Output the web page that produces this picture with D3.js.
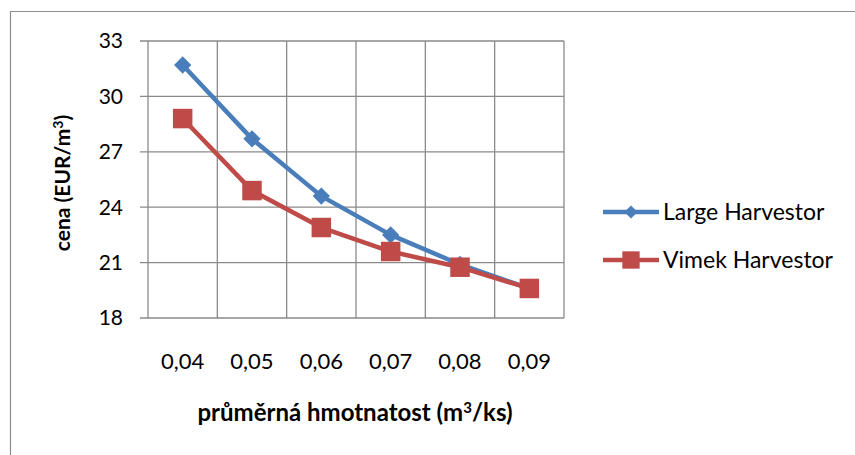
<!DOCTYPE html>
<html>
<head>
<meta charset="utf-8">
<script src="https://cdn.jsdelivr.net/npm/d3@7"></script>
<style>
  body { margin: 0; background: #fff; }
  svg { display: block; font-family: Lato, "Open Sans", sans-serif; }
</style>
</head>
<body>
<svg id="chart" width="855" height="455"></svg>
<script>
// data
const categories = ["0,04", "0,05", "0,06", "0,07", "0,08", "0,09"];
const largeHarvestor = [31.7, 27.7, 24.6, 22.5, 20.9, 19.6];
const vimekHarvestor = [28.8, 24.9, 22.9, 21.6, 20.75, 19.6];
const yTicks = [18, 21, 24, 27, 30, 33];

const series = [
  { name: "Large Harvestor", values: largeHarvestor, color: "#4a7ebb", marker: "diamond" },
  { name: "Vimek Harvestor", values: vimekHarvestor, color: "#be4b48", marker: "square" }
];

const svg = d3.select("#chart");

// outer chart border (cut off at right and bottom)
svg.append("path")
  .attr("d", "M10.5,455 L10.5,11.5 L855,11.5")
  .attr("fill", "none")
  .attr("stroke", "#8c8c8c")
  .attr("stroke-width", 1.2);

const plot = { left: 148, right: 564, top: 41, bottom: 318 };

const x = d3.scaleBand()
  .domain(categories)
  .range([plot.left, plot.right]);

const y = d3.scaleLinear()
  .domain([18, 33])
  .range([plot.bottom, plot.top]);

const g = svg.append("g");

// horizontal grid lines (with tick stubs to the left)
g.selectAll(".hgrid")
  .data(yTicks)
  .enter()
  .append("line")
  .attr("x1", plot.left - 8)
  .attr("x2", plot.right)
  .attr("y1", d => y(d))
  .attr("y2", d => y(d))
  .attr("stroke", "#8a8a8a")
  .attr("stroke-width", 1.3);

// vertical grid lines at category boundaries
const bounds = categories.map(c => x(c)).concat([plot.right]);
g.selectAll(".vgrid")
  .data(bounds)
  .enter()
  .append("line")
  .attr("x1", d => d)
  .attr("x2", d => d)
  .attr("y1", plot.top)
  .attr("y2", plot.bottom)
  .attr("stroke", "#8a8a8a")
  .attr("stroke-width", 1.3);

// y tick labels
g.selectAll(".ylab")
  .data(yTicks)
  .enter()
  .append("text")
  .attr("x", 123)
  .attr("y", d => y(d))
  .attr("dy", "0.35em")
  .attr("text-anchor", "end")
  .attr("font-size", 21)
  .attr("fill", "#000")
  .text(d => d);

// x tick labels
g.selectAll(".xlab")
  .data(categories)
  .enter()
  .append("text")
  .attr("x", d => x(d) + x.bandwidth() / 2)
  .attr("y", 361)
  .attr("dy", "0.35em")
  .attr("text-anchor", "middle")
  .attr("font-size", 22)
  .attr("fill", "#000")
  .text(d => d);

// axis titles
svg.append("text")
  .attr("x", 355)
  .attr("y", 421)
  .attr("text-anchor", "middle")
  .attr("font-size", 24)
  .attr("font-weight", "bold")
  .html("průměrná hmotnatost (m<tspan dy='-8' font-size='15'>3</tspan><tspan dy='8'>/ks)</tspan>");

svg.append("text")
  .attr("transform", "translate(70,183) rotate(-90)")
  .attr("text-anchor", "middle")
  .attr("font-size", 21)
  .attr("font-weight", "bold")
  .html("cena (EUR/m<tspan dy='-7' font-size='14'>3</tspan><tspan dy='7'>)</tspan>");

// lines and markers
const line = d3.line()
  .x((d, i) => x(categories[i]) + x.bandwidth() / 2)
  .y(d => y(d));

const diamond = d3.symbol().type(d3.symbolDiamond2).size(190);
const square = d3.symbol().type(d3.symbolSquare).size(380);

series.forEach(s => {
  g.append("path")
    .datum(s.values)
    .attr("d", line)
    .attr("fill", "none")
    .attr("stroke", s.color)
    .attr("stroke-width", 4.5)
    .attr("stroke-linejoin", "round");

  g.selectAll(".m-" + s.marker)
    .data(s.values)
    .enter()
    .append("path")
    .attr("transform", (d, i) => `translate(${x(categories[i]) + x.bandwidth() / 2},${y(d)})`)
    .attr("d", s.marker === "diamond" ? diamond : square)
    .attr("fill", s.color);
});

// legend
const legendDiamond = d3.symbol().type(d3.symbolDiamond2).size(110);
const legendSquare = d3.symbol().type(d3.symbolSquare).size(300);
const legend = svg.append("g");
series.forEach((s, i) => {
  const ly = 212 + i * 48;
  legend.append("line")
    .attr("x1", 603).attr("x2", 659)
    .attr("y1", ly).attr("y2", ly)
    .attr("stroke", s.color)
    .attr("stroke-width", 4.5);
  legend.append("path")
    .attr("transform", `translate(631,${ly})`)
    .attr("d", s.marker === "diamond" ? legendDiamond : legendSquare)
    .attr("fill", s.color);
  legend.append("text")
    .attr("x", 663)
    .attr("y", ly)
    .attr("dy", "0.35em")
    .attr("font-size", 23)
    .attr("fill", "#000")
    .text(s.name);
});
</script>
</body>
</html>
